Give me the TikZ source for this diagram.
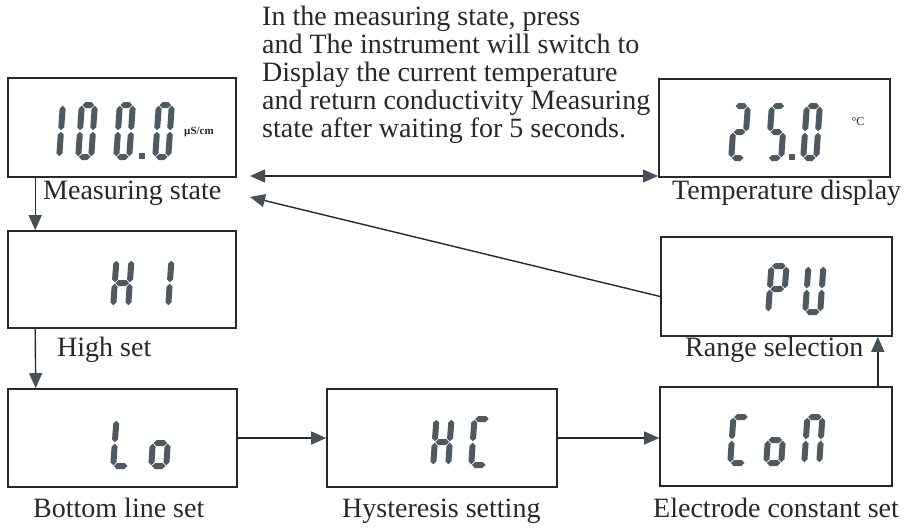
\documentclass[tikz,border=0pt]{standalone}
\usepackage{fontspec}
\setmainfont{Liberation Serif}
\usetikzlibrary{arrows.meta}
\definecolor{lcdc}{RGB}{78,90,95}
\definecolor{ink}{RGB}{40,40,40}
\definecolor{arrc}{RGB}{70,80,86}
\newcommand\segT{6}
\newcommand\segG{0.7}
\newcommand\hseg[3]{\fill[lcdc] ({#1+\segG},{#3}) -- ({#1+\segG+\segT/2},{#3-\segT/2}) -- ({#2-\segG-\segT/2},{#3-\segT/2}) -- ({#2-\segG},{#3}) -- ({#2-\segG-\segT/2},{#3+\segT/2}) -- ({#1+\segG+\segT/2},{#3+\segT/2}) -- cycle;}
\newcommand\vseg[3]{\fill[lcdc] ({#1},{#2+\segG}) -- ({#1+\segT/2},{#2+\segG+\segT/2}) -- ({#1+\segT/2},{#3-\segG-\segT/2}) -- ({#1},{#3-\segG}) -- ({#1-\segT/2},{#3-\segG-\segT/2}) -- ({#1-\segT/2},{#2+\segG+\segT/2}) -- cycle;}
\newcommand\lcdsegA{\hseg{\segT/2}{\segW-\segT/2}{\segT/2}}
\newcommand\lcdsegB{\vseg{\segW-\segT/2}{\segT/2}{\segH/2}}
\newcommand\lcdsegC{\vseg{\segW-\segT/2}{\segH/2}{\segH-\segT/2}}
\newcommand\lcdsegD{\hseg{\segT/2}{\segW-\segT/2}{\segH-\segT/2}}
\newcommand\lcdsegE{\vseg{\segT/2}{\segH/2}{\segH-\segT/2}}
\newcommand\lcdsegF{\vseg{\segT/2}{\segT/2}{\segH/2}}
\newcommand\lcdsegG{\hseg{\segT/2}{\segW-\segT/2}{\segH/2}}
% #1 x (bottom-left), #2 top y, #3 width, #4 height, #5 slant, #6 segments
\newcommand\lcdchar[6]{%
  \begin{scope}[shift={({#1+#5*#4},{#2})}, xslant=#5]
    \def\segW{#3}\def\segH{#4}%
    \foreach \sg in {#6}{\csname lcdseg\sg\endcsname}
  \end{scope}}
\tikzset{
  box/.style={draw=ink, line width=1.6pt, inner sep=0pt, fill=white},
  lbl/.style={font=\fontsize{28}{29}\selectfont, text=ink, inner sep=0pt},
  small/.style={font=\fontsize{11}{12}\selectfont\bfseries, text=ink, inner sep=0pt},
  arr/.style={draw=ink, line width=1.4pt, -{Triangle[length=15pt,width=13pt,color=arrc]}},
  darr/.style={draw=ink, line width=1.4pt, {Triangle[length=15pt,width=13pt,color=arrc]}-{Triangle[length=15pt,width=13pt,color=arrc]}}
}
\begin{document}
\begin{tikzpicture}[x=1pt,y=-1pt]
\useasboundingbox (0,0) rectangle (912,528);
\fill[white] (0,0) rectangle (912,528);
% boxes
\node[box, minimum width=228pt, minimum height=99pt] (meas) at (122,127.5) {};
\node[box, minimum width=231pt, minimum height=98pt] (temp) at (774.5,128) {};
\node[box, minimum width=228pt, minimum height=97pt] (high) at (122,279.5) {};
\node[box, minimum width=231pt, minimum height=99pt] (pu) at (776.5,286.5) {};
\node[box, minimum width=229pt, minimum height=98pt] (lo) at (122.5,438) {};
\node[box, minimum width=230pt, minimum height=98pt] (hc) at (442,438) {};
\node[box, minimum width=232pt, minimum height=99pt] (con) at (776,436.5) {};
% displays
\lcdchar{43}{102}{19}{58}{0.07}{B,C}
\lcdchar{75}{102}{19}{58}{0.07}{A,B,C,D,E,F}
\lcdchar{113}{102}{19}{58}{0.07}{A,B,C,D,E,F}
\fill[lcdc] (139,153) rectangle ++(6,6);
\lcdchar{152}{102}{19}{58}{0.07}{A,B,C,D,E,F}
\node[small] (unit1) at (199,132) {µS/cm};
\lcdchar{728}{103}{19}{58}{0.07}{A,B,G,E,D}
\lcdchar{765}{103}{19}{58}{0.07}{A,F,G,C,D}
\fill[lcdc] (789,154) rectangle ++(6,6);
\lcdchar{800}{103}{19}{58}{0.07}{A,B,C,D,E,F}
\node[small, font=\fontsize{12}{13}\selectfont] (unit2) at (858,122) {°C};
\lcdchar{110}{257}{21}{52}{0.07}{B,C,E,F,G}
\lcdchar{150}{257}{21}{52}{0.07}{B,C}
\lcdchar{110}{417}{21}{52}{0.07}{D,E,F}
\lcdchar{148}{417}{21}{52}{0.07}{C,D,E,G}
\lcdchar{430}{416}{21}{52}{0.07}{B,C,E,F,G}
\lcdchar{468}{416}{21}{52}{0.07}{A,D,E,F}
\lcdchar{727}{414}{21}{52}{0.07}{A,D,E,F}
\lcdchar{763}{414}{21}{52}{0.07}{C,D,E,G}
\lcdchar{801}{414}{21}{52}{0.07}{A,B,C,E,F}
\lcdchar{765}{263}{21}{52}{0.07}{A,B,E,F,G}
\lcdchar{802}{263}{21}{52}{0.07}{B,C,D,E,F}
% labels
\node[lbl, anchor=base west] (lmeas) at (43,199) {Measuring state};
\node[lbl, anchor=base west] (ltemp) at (672,199) {Temperature display};
\node[lbl, anchor=base west] (lhigh) at (57,356) {High set};
\node[lbl, anchor=base west] (lrange) at (685,356) {Range selection};
\node[lbl, anchor=base west] (llo) at (33,517) {Bottom line set};
\node[lbl, anchor=base west] (lhc) at (342,517) {Hysteresis setting};
\node[lbl, anchor=base west] (lcon) at (653,517) {Electrode constant set};
% note
\node[lbl, anchor=base west] (n1) at (262,25) {In the measuring state, press};
\node[lbl, anchor=base west] (n2) at (262,53) {and The instrument will switch to};
\node[lbl, anchor=base west] (n3) at (262,81) {Display the current temperature};
\node[lbl, anchor=base west] (n4) at (262,109) {and return conductivity Measuring};
\node[lbl, anchor=base west] (n5) at (262,137) {state after waiting for 5 seconds.};
% connectors
\coordinate (dl) at (250,176);
\coordinate (dr) at (658,176);
\coordinate (dg) at (250,197);
\draw[darr] (dl) -- (dr);
\draw[arr] ([yshift=-10pt]pu.west) -- (dg);
\draw[arr] ([xshift=28pt]meas.south west) -- ([xshift=28pt]high.north west);
\draw[arr] ([xshift=28pt]high.south west) -- ([xshift=28.5pt]lo.north west);
\draw[arr] (lo.east) -- (hc.west);
\draw[arr] (hc.east) -- (hc.east -| con.west);
\draw[arr] ([xshift=-15pt]con.north east) -- ([xshift=-15pt]con.north east |- pu.south);
\end{tikzpicture}
\end{document}
